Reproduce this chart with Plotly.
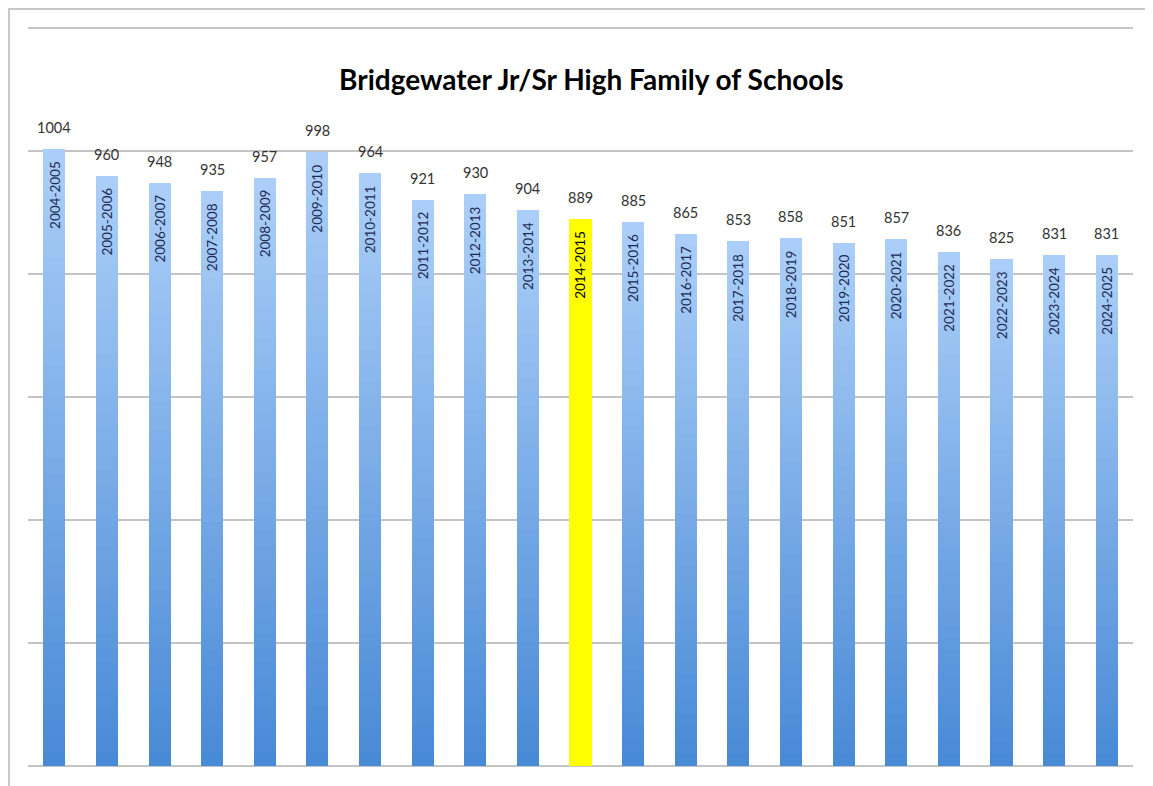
import plotly.graph_objects as go

# enrolment per school year
years = ['2004-2005', '2005-2006', '2006-2007', '2007-2008', '2008-2009', '2009-2010',
         '2010-2011', '2011-2012', '2012-2013', '2013-2014', '2014-2015', '2015-2016',
         '2016-2017', '2017-2018', '2018-2019', '2019-2020', '2020-2021', '2021-2022',
         '2022-2023', '2023-2024', '2024-2025']
students = [1004, 960, 948, 935, 957, 998, 964, 921, 930, 904, 889, 885,
            865, 853, 858, 851, 857, 836, 825, 831, 831]
highlight_year = '2014-2015'

TOP_RGB = (172, 207, 248)
BOTTOM_RGB = (72, 137, 214)
STEPS = 40


def blend(t):
    """t=0 -> bottom colour, t=1 -> top colour"""
    r, g, b = [round(BOTTOM_RGB[i] + (TOP_RGB[i] - BOTTOM_RGB[i]) * t) for i in range(3)]
    return f'rgb({r},{g},{b})'


fig = go.Figure()

# plotly has no gradient fill for bars, so each bar is stacked from thin slices
for k in range(STEPS):
    colour = blend((k + 0.5) / STEPS)
    fig.add_trace(go.Bar(
        x=years, y=[v / STEPS for v in students],
        marker=dict(color=['#ffff00' if y == highlight_year else colour for y in years],
                    line=dict(width=0)),
        hoverinfo='skip', showlegend=False))

# value above each bar, year label rotated inside the top of the bar
for year, value in zip(years, students):
    fig.add_annotation(x=year, y=value, text=str(value), showarrow=False,
                       yanchor='bottom', yshift=11,
                       font=dict(family='Lato', size=14.5, color='#333333'))
    fig.add_annotation(x=year, y=value, text=year, showarrow=False, textangle=-90,
                       yanchor='top', yshift=-10,
                       font=dict(family='Lato', size=13.5,
                                 color='#000000' if year == highlight_year else '#1c2b55'))

# outer frame of the chart (bottom edge runs off the page like in the original)
fig.add_shape(type='rect', xref='paper', yref='paper',
              x0=-0.0172, x1=1.0154, y0=-0.035, y1=1.0216,
              line=dict(color='#c8c8c8', width=2), layer='below')

# page body adds 8px around the figure, so the figure is 8px smaller than the window
fig.update_layout(
    width=1145, height=778,
    barmode='stack', bargap=0.58,
    plot_bgcolor='white', paper_bgcolor='white',
    margin=dict(l=20, r=20, t=17, b=20),
    title=dict(text='<b>Bridgewater Jr/Sr High Family of Schools</b>',
               x=0.5095, xanchor='center', y=0.9075, yanchor='middle',
               font=dict(family='Lato', size=28, color='#000000')),
)
fig.update_xaxes(showticklabels=False, showgrid=False, ticks='', showline=False)
fig.update_yaxes(range=[0, 1205], tick0=0, dtick=200, showticklabels=False,
                 showgrid=True, gridcolor='#c4c4c4', gridwidth=2,
                 zeroline=True, zerolinecolor='#c4c4c4', zerolinewidth=2)

fig.write_html('out.html')
